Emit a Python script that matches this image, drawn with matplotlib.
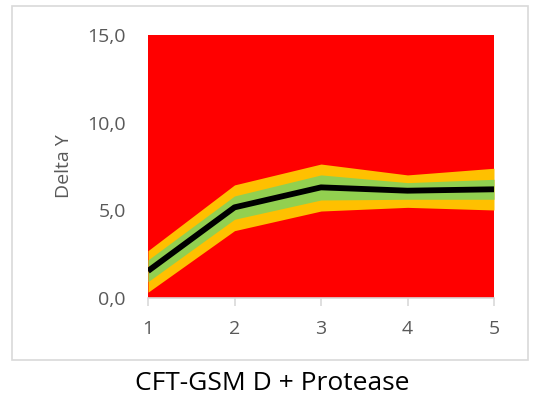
import matplotlib.pyplot as plt
from matplotlib.patches import Rectangle

plt.rcParams['font.family'] = ['Open Sans', 'DejaVu Sans']

x = [1, 2, 3, 4, 5]
mean = [1.54, 5.17, 6.31, 6.12, 6.20]
low_outer = [0.33, 3.84, 4.96, 5.17, 5.02]
low_inner = [0.93, 4.49, 5.59, 5.63, 5.63]
high_inner = [2.17, 5.82, 7.02, 6.58, 6.77]
high_outer = [2.70, 6.45, 7.64, 7.02, 7.40]
y_max = 15

fig = plt.figure(figsize=(5.37, 3.96), dpi=100)
ax = fig.add_axes([148 / 537, 1 - 298 / 396, 346 / 537, 263 / 396])

# background box like the Excel chart area
fig.patches.append(Rectangle((12 / 537, 1 - 360 / 396), 516 / 537, 354 / 396,
                             transform=fig.transFigure, fill=False,
                             edgecolor='#d9d9d9', linewidth=1.2))

ax.fill_between(x, 0, y_max, color='#ff0000', linewidth=0)
ax.fill_between(x, low_outer, high_outer, color='#ffc000', linewidth=0)
ax.fill_between(x, low_inner, high_inner, color='#92d050', linewidth=0)
ax.plot(x, mean, color='black', linewidth=4.2, solid_capstyle='butt')

ax.set_xlim(1, 5)
ax.set_ylim(0, 15)
ax.set_xticks(x)
ax.set_yticks([0, 5, 10, 15])
ax.set_yticklabels(['0,0', '5,0', '10,0', '15,0'])

for s in ['top', 'right', 'left']:
    ax.spines[s].set_visible(False)
ax.spines['bottom'].set_color('#d9d9d9')
ax.spines['bottom'].set_linewidth(1.2)
ax.tick_params(axis='x', colors='#d9d9d9', length=6, width=1.2, pad=10,
               labelcolor='#595959', labelsize=14)
ax.tick_params(axis='y', length=0, pad=16, labelcolor='#595959', labelsize=14)

ax.set_ylabel('Delta Y', fontsize=14, color='#595959', labelpad=10)

fig.text(272 / 537, 1 - 383 / 396, 'CFT-GSM D + Protease', ha='center',
         va='center', fontsize=19, color='black')

fig.savefig('out.png', dpi=100)
